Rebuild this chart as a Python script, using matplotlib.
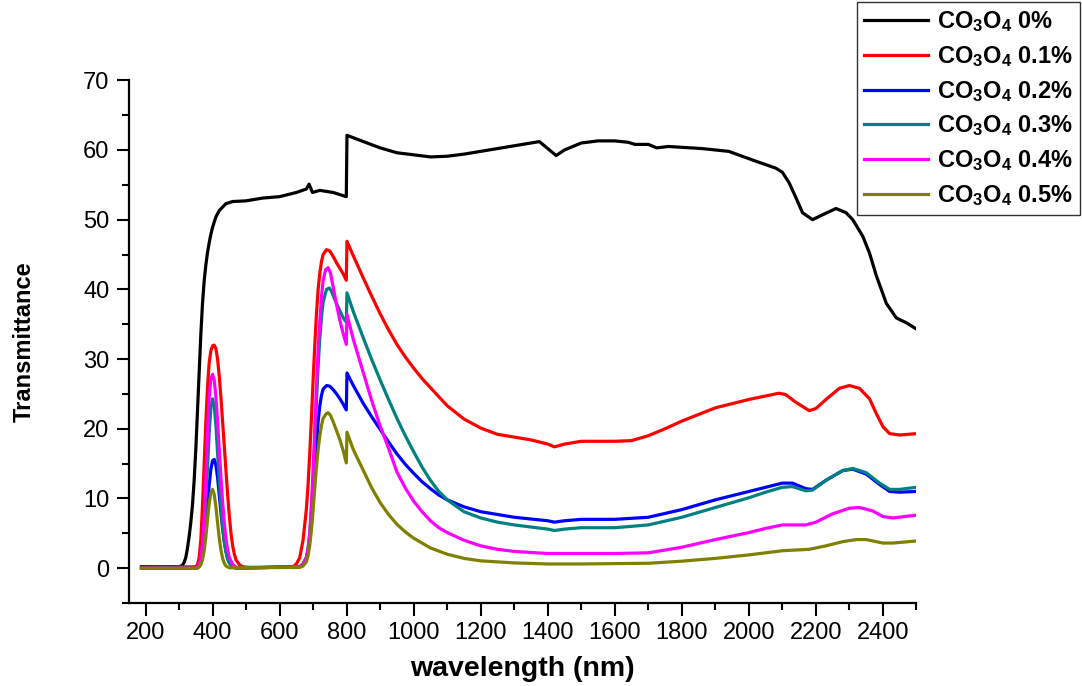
import matplotlib
matplotlib.use("Agg")
import matplotlib.pyplot as plt
from matplotlib.ticker import MultipleLocator

plt.rcParams['font.family'] = ['Liberation Sans', 'DejaVu Sans']
plt.rcParams['mathtext.fontset'] = 'custom'
plt.rcParams['mathtext.rm'] = 'Liberation Sans:bold'
plt.rcParams['mathtext.bf'] = 'Liberation Sans:bold'
plt.rcParams['mathtext.default'] = 'bf'

# --- data ---
wl_0 = [188, 300, 310, 315, 320, 325, 330, 335, 340, 345, 350, 355, 360, 365, 370, 375, 380,
        385, 390, 395, 400, 410, 420, 430, 440, 460, 500, 550, 600, 650, 680, 688, 698, 720,
        760, 799, 801, 850, 900, 950, 1000, 1050, 1100, 1150, 1200, 1250, 1300, 1350, 1375,
        1400, 1425, 1450, 1500, 1550, 1600, 1640, 1660, 1700, 1725, 1760, 1860, 1940, 2020,
        2080, 2100, 2120, 2140, 2160, 2190, 2220, 2260, 2290, 2310, 2340, 2360, 2380, 2410,
        2440, 2470, 2500]
t_0 = [0.2, 0.2, 0.4, 0.8, 1.5, 2.8, 4.5, 6.5, 9.0, 12.5, 17.0, 22.5, 28.0, 33.5, 38.0, 41.2, 43.5,
       45.3, 46.7, 47.9, 48.9, 50.4, 51.3, 51.8, 52.3, 52.6, 52.7, 53.1, 53.3, 53.9, 54.4, 55.1, 53.9, 54.2,
       53.9, 53.3, 62.1, 61.2, 60.3, 59.6, 59.3, 59.0, 59.1, 59.4, 59.8, 60.2, 60.6, 61.0, 61.2,
       60.2, 59.2, 60.0, 61.0, 61.3, 61.3, 61.1, 60.8, 60.8, 60.3, 60.5, 60.2, 59.8, 58.4,
       57.4, 56.8, 55.3, 53.2, 51.0, 50.0, 50.7, 51.6, 51.0, 50.0, 47.6, 45.2, 42.0, 38.0,
       35.9, 35.2, 34.3]

wl_01 = [188, 350, 355, 360, 365, 370, 375, 380, 385, 390, 395, 400, 405, 410, 415, 420, 425,
         430, 435, 440, 445, 450, 455, 460, 465, 470, 480, 490, 510, 640, 650, 660, 670, 680,
         685, 690, 695, 700, 705, 710, 715, 720, 725, 730, 740, 750, 760, 770, 780, 790, 799,
         801, 810, 820, 835, 850, 875, 900, 925, 950, 975, 1000, 1025, 1050, 1100, 1150, 1200,
         1250, 1300, 1350, 1400, 1420, 1450, 1500, 1600, 1650, 1700, 1750, 1800, 1900, 2000,
         2050, 2090, 2110, 2140, 2180, 2200, 2230, 2270, 2300, 2330, 2360, 2380, 2400, 2420,
         2450, 2500]
t_01 = [0.1, 0.2, 0.5, 1.5, 4.0, 9.0, 15.0, 21.0, 26.0, 29.5, 31.2, 31.9, 32.0, 31.5, 30.0, 27.5, 24.5,
        21.0, 17.5, 14.0, 10.5, 7.5, 5.0, 3.2, 2.0, 1.2, 0.5, 0.2, 0.1, 0.2, 0.6, 1.5, 4.0, 8.5,
        12.0, 16.5, 21.5, 27.0, 32.0, 36.5, 40.0, 42.3, 44.0, 45.0, 45.7, 45.5, 44.7, 43.8, 43.0, 42.2, 41.3,
        46.9, 45.9, 44.8, 43.2, 41.6, 39.0, 36.5, 34.2, 32.1, 30.3, 28.7, 27.2, 25.9, 23.3, 21.4, 20.1,
        19.2, 18.8, 18.4, 17.8, 17.4, 17.8, 18.2, 18.2, 18.3, 19.0, 20.0, 21.1, 23.0, 24.2,
        24.7, 25.1, 24.9, 23.8, 22.6, 22.9, 24.2, 25.8, 26.2, 25.8, 24.3, 22.2, 20.3, 19.3,
        19.1, 19.3]

wl_02 = [188, 350, 355, 360, 365, 370, 375, 380, 385, 390, 395, 400, 405, 410, 415, 420, 425,
         430, 435, 440, 445, 450, 460, 470, 660, 670, 680, 685, 690, 695, 700, 705, 710, 715,
         720, 725, 730, 740, 750, 760, 770, 780, 790, 799, 801, 820, 850, 875, 900, 925, 950,
         975, 1000, 1025, 1050, 1075, 1100, 1150, 1200, 1250, 1300, 1400, 1420, 1450, 1500,
         1600, 1700, 1800, 1900, 2000, 2050, 2100, 2130, 2170, 2190, 2230, 2280, 2310, 2350,
         2390, 2420, 2450, 2500]
t_02 = [0.0, 0.0, 0.05, 0.3, 0.9, 2.0, 3.8, 6.3, 9.2, 12.0, 14.2, 15.4, 15.6, 14.8, 13.0, 10.5, 8.0,
        5.7, 3.8, 2.4, 1.4, 0.8, 0.25, 0.0, 0.2, 0.6, 1.5, 2.5, 4.0, 6.5, 9.5, 13.5, 17.5, 21.0,
        23.3, 24.8, 25.7, 26.2, 26.1, 25.6, 25.0, 24.3, 23.5, 22.7, 28.0, 26.2, 23.6, 21.7, 19.9, 18.1, 16.4,
        14.9, 13.6, 12.4, 11.4, 10.5, 9.8, 8.8, 8.1, 7.7, 7.3, 6.8, 6.6, 6.8, 7.0,
        7.0, 7.3, 8.4, 9.8, 11.0, 11.6, 12.2, 12.2, 11.4, 11.3, 12.6, 14.0, 14.2, 13.5,
        12.0, 11.0, 10.9, 11.0]

wl_03 = [188, 350, 355, 360, 365, 370, 375, 380, 385, 390, 395, 400, 405, 410, 415, 420, 425,
         430, 435, 440, 445, 450, 460, 470, 660, 670, 680, 685, 690, 695, 700, 705, 710, 715,
         720, 725, 730, 740, 748, 755, 765, 780, 790, 799, 801, 820, 850, 875, 900, 925, 950,
         975, 1000, 1025, 1050, 1075, 1100, 1150, 1200, 1250, 1300, 1400, 1420, 1450, 1500,
         1600, 1700, 1800, 1900, 2000, 2050, 2100, 2130, 2170, 2190, 2230, 2280, 2310, 2350,
         2390, 2420, 2450, 2500]
t_03 = [0.0, 0.0, 0.1, 0.4, 1.2, 2.8, 5.5, 9.5, 14.5, 19.5, 23.0, 24.3, 23.3, 20.5, 16.5, 12.5, 9.0,
        6.0, 3.8, 2.3, 1.3, 0.7, 0.2, 0.0, 0.2, 0.6, 1.5, 2.8, 5.0, 8.5, 13.0, 18.5, 24.0, 29.0,
        33.0, 36.0, 38.2, 40.0, 40.2, 39.7, 38.5, 36.9, 35.9, 35.3, 39.5, 36.8, 33.0, 29.9, 27.0, 24.2, 21.5,
        19.0, 16.7, 14.5, 12.6, 11.0, 9.8, 8.1, 7.2, 6.6, 6.2, 5.6, 5.4, 5.6, 5.8,
        5.8, 6.2, 7.3, 8.7, 10.1, 10.9, 11.6, 11.7, 11.1, 11.2, 12.6, 14.0, 14.3, 13.7,
        12.2, 11.3, 11.3, 11.6]

wl_04 = [188, 350, 355, 360, 365, 370, 375, 380, 385, 390, 395, 400, 405, 410, 415, 420, 425,
         430, 435, 440, 445, 450, 460, 470, 480, 660, 670, 680, 685, 690, 695, 700, 705, 710,
         715, 720, 725, 730, 737, 745, 752, 760, 770, 780, 790, 799, 801, 820, 850, 875, 900,
         925, 950, 975, 1000, 1025, 1050, 1075, 1100, 1150, 1200, 1250, 1300, 1400, 1500, 1600,
         1700, 1800, 1900, 2000, 2050, 2100, 2170, 2200, 2250, 2300, 2330, 2370, 2400, 2430,
         2500]
t_04 = [0.0, 0.0, 0.2, 0.6, 1.5, 3.5, 7.0, 12.5, 19.5, 24.5, 27.2, 27.8, 27.0, 24.5, 21.0, 17.0, 13.0,
        9.5, 6.5, 4.2, 2.6, 1.5, 0.5, 0.15, 0.0, 0.2, 0.6, 1.5, 2.8, 5.0, 9.0, 14.0, 20.0, 26.0,
        31.5, 35.5, 39.0, 41.3, 42.8, 43.1, 42.3, 40.3, 37.8, 35.5, 33.6, 32.1, 36.4, 32.8, 28.0, 24.0, 20.4,
        17.2, 13.8, 11.5, 9.6, 8.1, 6.8, 5.8, 5.1, 4.0, 3.2, 2.7, 2.4, 2.1, 2.1, 2.1,
        2.2, 3.0, 4.1, 5.1, 5.7, 6.2, 6.2, 6.6, 7.8, 8.6, 8.7, 8.2, 7.4, 7.2,
        7.6]

wl_05 = [188, 355, 360, 365, 370, 375, 380, 385, 390, 395, 400, 405, 410, 415, 420, 425, 430,
         435, 440, 450, 660, 670, 680, 685, 690, 695, 700, 705, 710, 715, 720, 725, 730, 740,
         745, 752, 760, 770, 780, 790, 799, 801, 820, 850, 875, 900, 925, 950, 975, 1000, 1050,
         1100, 1150, 1200, 1300, 1400, 1500, 1700, 1800, 1900, 2000, 2100, 2180, 2230, 2280,
         2320, 2350, 2400, 2430, 2500]
t_05 = [0.0, 0.0, 0.15, 0.5, 1.2, 2.5, 4.5, 7.0, 9.3, 10.8, 11.3, 10.6, 8.8, 6.5, 4.3, 2.6, 1.4,
        0.7, 0.3, 0.05, 0.1, 0.3, 0.9, 1.8, 3.3, 5.5, 8.3, 11.5, 14.5, 17.0, 19.0, 20.5, 21.5, 22.2,
        22.3, 21.9, 21.0, 19.7, 18.4, 16.8, 15.1, 19.5, 17.0, 14.0, 11.5, 9.4, 7.7, 6.3, 5.2, 4.3, 2.9,
        2.0, 1.4, 1.05, 0.75, 0.6, 0.6, 0.7, 1.0, 1.4, 1.9, 2.5, 2.7, 3.2, 3.8,
        4.1, 4.1, 3.6, 3.6, 3.9]

labels = [r'CO$_3$O$_4$ 0%', r'CO$_3$O$_4$ 0.1%', r'CO$_3$O$_4$ 0.2%',
          r'CO$_3$O$_4$ 0.3%', r'CO$_3$O$_4$ 0.4%', r'CO$_3$O$_4$ 0.5%']
colors = ['black', 'red', 'blue', '#008080', 'magenta', '#808000']

series = [(wl_0, t_0), (wl_01, t_01), (wl_02, t_02), (wl_03, t_03), (wl_04, t_04), (wl_05, t_05)]

fig = plt.figure(figsize=(10.82, 6.86), dpi=100)
ax = fig.add_axes([0.119, 0.121, 0.728, 0.762])

lines = []
for (x, y), c, lab in zip(series, colors, labels):
    ln, = ax.plot(x, y, color=c, lw=2.3, label=lab)
    lines.append(ln)

ax.set_xlim(150, 2500)
ax.set_ylim(-5, 70)
ax.xaxis.set_major_locator(MultipleLocator(200))
ax.xaxis.set_minor_locator(MultipleLocator(100))
ax.yaxis.set_major_locator(MultipleLocator(10))
ax.yaxis.set_minor_locator(MultipleLocator(5))

ax.spines['top'].set_visible(False)
ax.spines['right'].set_visible(False)
for s in ['left', 'bottom']:
    ax.spines[s].set_linewidth(1.6)
ax.tick_params(which='major', direction='out', length=9, width=1.5, labelsize=17, pad=5)
ax.tick_params(which='minor', direction='out', length=5, width=1.5)

ax.set_xlabel('wavelength (nm)', fontsize=20.5, fontweight='bold', labelpad=8)
ax.set_ylabel('Transmittance', fontsize=17, fontweight='bold', labelpad=34)

leg = fig.legend(handles=lines, loc='upper right', bbox_to_anchor=(0.998, 0.997),
                 prop={'weight': 'bold', 'size': 17}, frameon=True, fancybox=False,
                 handlelength=2.7, handletextpad=0.4, labelspacing=0.42, borderpad=0.3,
                 borderaxespad=0.0)
leg.get_frame().set_edgecolor('black')
leg.get_frame().set_linewidth(1.0)

fig.savefig('out.png', dpi=100)
